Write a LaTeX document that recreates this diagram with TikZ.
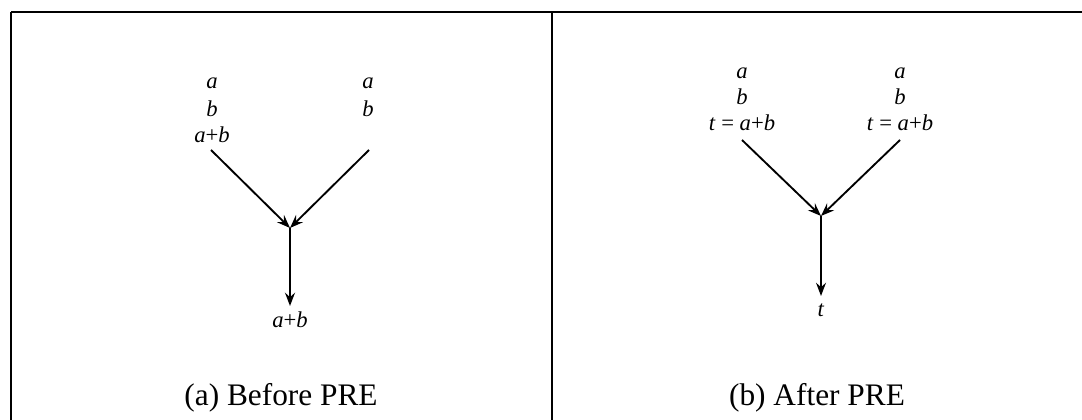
\documentclass[tikz,border=0pt]{standalone}
\usepackage{fontspec}
\setmainfont{Liberation Serif}
\usetikzlibrary{arrows.meta}
\begin{document}
\begin{tikzpicture}[x=0.75pt,y=-0.75pt,
  lbl/.style={anchor=base,inner sep=0pt,text depth=0pt,font=\fontsize{17pt}{19pt}\selectfont},
  captxt/.style={anchor=base,inner sep=0pt,font=\fontsize{23.5pt}{26pt}\selectfont},
  arr/.style={line width=1.4pt,-{Stealth[length=10pt,width=7.5pt,inset=3.5pt]}},
  frameline/.style={line width=2.2pt}]
\useasboundingbox (0,0) rectangle (1082,420);
% frame
\coordinate (tl) at (11,12);
\coordinate (tr) at (1082,12);
\coordinate (bl) at (11,420);
\coordinate (dt) at (552,12);
\coordinate (db) at (552,420);
\draw[line width=1.6pt] (tl) -- (tr);
\draw[frameline] (tl) -- (bl);
\draw[frameline] (dt) -- (db);
% panel (a)
\node[lbl] (la1) at (212,89) {\textit{a}};
\node[lbl] (lb1) at (212,117) {\textit{b}};
\node[lbl] (lc1) at (212,143) {\textit{a}+\textit{b}};
\node[lbl] (ra1) at (368,89) {\textit{a}};
\node[lbl] (rb1) at (368,117) {\textit{b}};
\coordinate (s1) at (211,150);
\coordinate (s2) at (369,150);
\coordinate (j1) at (290,228);
\coordinate (e1) at (290,306);
\node[lbl] (outa) at (290,328) {\textit{a}+\textit{b}};
\draw[arr] (s1) -- (j1);
\draw[arr] (s2) -- (j1);
\draw[arr,line width=2pt] (j1) -- (e1);
\node[captxt] (capa) at (281,406) {(a) Before PRE};
% panel (b)
\node[lbl] (la2) at (742,79) {\textit{a}};
\node[lbl] (lb2) at (742,105) {\textit{b}};
\node[lbl] (lc2) at (742,131) {\textit{t} = \textit{a}+\textit{b}};
\node[lbl] (ra2) at (900,79) {\textit{a}};
\node[lbl] (rb2) at (900,105) {\textit{b}};
\node[lbl] (rc2) at (900,131) {\textit{t} = \textit{a}+\textit{b}};
\coordinate (s3) at (742,140);
\coordinate (s4) at (900,140);
\coordinate (j2) at (821,216);
\coordinate (e2) at (821,296);
\node[lbl] (outb) at (821,317) {\textit{t}};
\draw[arr] (s3) -- (j2);
\draw[arr] (s4) -- (j2);
\draw[arr] (j2) -- (e2);
\node[captxt] (capb) at (817,406) {(b) After PRE};
\end{tikzpicture}
\end{document}
